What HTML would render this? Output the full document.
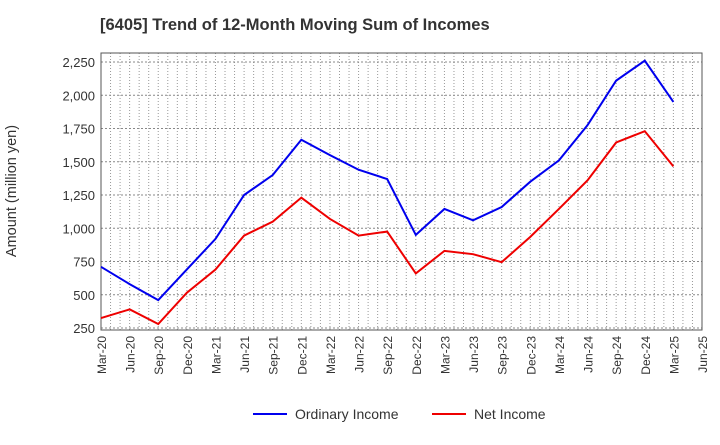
<!DOCTYPE html>
<html><head><meta charset="utf-8"><style>
body{margin:0;background:#fff;font-family:"Liberation Sans",sans-serif}
svg text{font-family:"Liberation Sans",sans-serif}
</style></head><body>
<svg id="c" width="720" height="440" xmlns="http://www.w3.org/2000/svg">
<text x="100" y="30" font-size="16.5" font-weight="bold" fill="#333">[6405]  Trend of 12-Month Moving Sum of Incomes</text>
<text transform="translate(16,191) rotate(-90)" font-size="14.5" fill="#333" text-anchor="middle">Amount (million yen)</text>
<g id="grid"></g><g id="axes"></g><g id="series"></g>
<g>
<line x1="253" y1="414" x2="287" y2="414" stroke="#0000ee" stroke-width="2"/>
<text x="295" y="419" font-size="14" fill="#333">Ordinary Income</text>
<line x1="432" y1="414" x2="466" y2="414" stroke="#ee0000" stroke-width="2"/>
<text x="474" y="419" font-size="14" fill="#333">Net Income</text>
</g>
</svg>
<script>
const categories=["Mar-20","Jun-20","Sep-20","Dec-20","Mar-21","Jun-21","Sep-21","Dec-21","Mar-22","Jun-22","Sep-22","Dec-22","Mar-23","Jun-23","Sep-23","Dec-23","Mar-24","Jun-24","Sep-24","Dec-24","Mar-25","Jun-25"];
const ordinaryIncome=[710,580,460,690,920,1250,1400,1665,1550,1440,1370,950,1145,1060,1160,1350,1510,1775,2110,2260,1950];
const netIncome=[325,390,280,515,690,945,1050,1230,1070,945,975,660,830,805,745,935,1145,1360,1645,1730,1465];
const yTicks=[250,500,750,1000,1250,1500,1750,2000,2250];
const NS="http://www.w3.org/2000/svg";
const L=101,R=702,T=53,B=330;
function x(i){return L+(R-L)*i/(categories.length-1);}
function y(v){return 328-(v-250)*(328-62)/2000;}
function mk(t,a,p){const e=document.createElementNS(NS,t);for(const k in a)e.setAttribute(k,a[k]);p.appendChild(e);return e;}
const g=document.getElementById('grid'),ax=document.getElementById('axes'),s=document.getElementById('series');
for(let m=1;m<(categories.length-1)*3;m++){const xx=L+(R-L)*m/((categories.length-1)*3);
 const l=mk('line',{x1:xx,x2:xx,y1:T,y2:B,stroke:'#999','stroke-dasharray':'1,2','stroke-width':1},g);
 
 }
yTicks.forEach(v=>{const l=mk('line',{x1:L,x2:R,y1:y(v),y2:y(v),stroke:'#888','stroke-dasharray':'2,2'},g);
 
 
 const t=mk('text',{x:L-6,y:y(v)+5,'font-size':13,fill:'#333','text-anchor':'end'},ax);
 t.textContent=v.toLocaleString('en-US');
 
 });
const fr=mk('rect',{x:L,y:T,width:R-L,height:B-T,fill:'none',stroke:'#555'},ax);


categories.forEach((c,i)=>{const t=mk('text',{transform:`translate(${x(i)+5},${B+6}) rotate(-90)`,'font-size':12,fill:'#333','text-anchor':'end'},ax);
 t.textContent=c;
 
 });
function line(d,col,name){const p=mk('polyline',{points:d.map((v,i)=>x(i)+','+y(v)).join(' '),fill:'none',stroke:col,'stroke-width':2},s);
 
 }
line(ordinaryIncome,'#0000ee','ordinary-income-line');
line(netIncome,'#ee0000','net-income-line');
</script>
</body></html>
